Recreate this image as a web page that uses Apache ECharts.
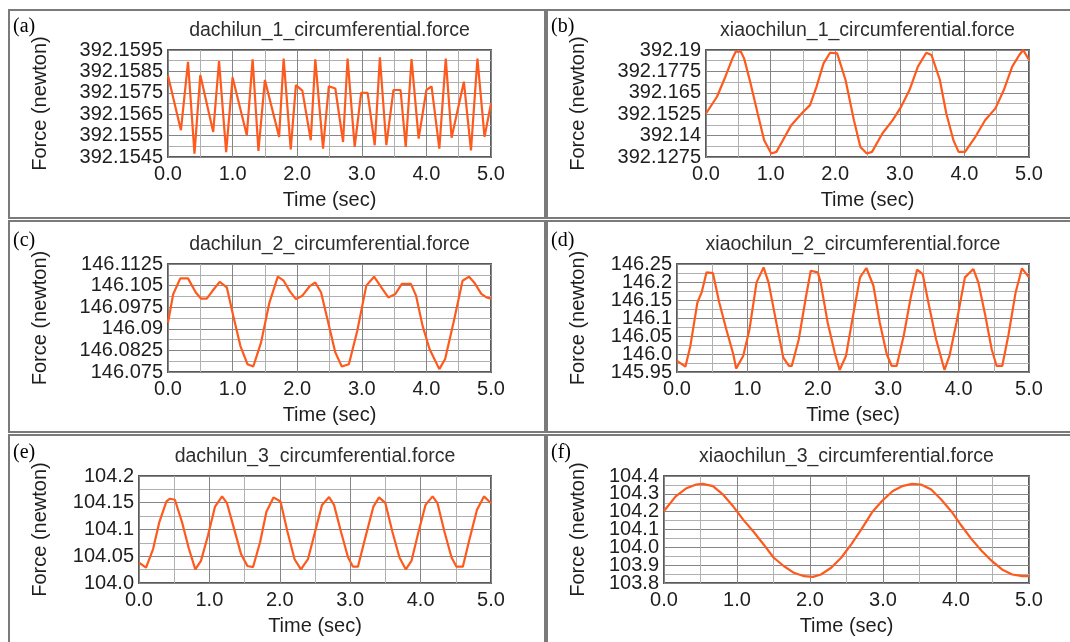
<!DOCTYPE html>
<html>
<head>
<meta charset="utf-8">
<title>circumferential force</title>
<script src="https://cdn.jsdelivr.net/npm/echarts@6/dist/echarts.min.js"></script>
<style>
    html, body { margin: 0; padding: 0; background: #fff; }
    #main { width: 1070px; height: 642px; }
</style>
</head>
<body>
<div id="main"></div>
<script>
// x axis tick labels (sec)
var timeLabels = ['0.0', '1.0', '2.0', '3.0', '4.0', '5.0'];

// (a) dachilun_1
var tA = [0, 0.20, 0.31, 0.41, 0.50, 0.70, 0.79, 0.90, 1.00, 1.22, 1.31, 1.40, 1.50, 1.72, 1.79, 1.90, 1.98, 2.08, 2.21, 2.28, 2.40, 2.49, 2.59, 2.71, 2.78, 2.89, 2.99, 3.09, 3.20, 3.28, 3.38, 3.49, 3.60, 3.68, 3.77, 3.88, 4.00, 4.08, 4.20, 4.30, 4.39, 4.58, 4.69, 4.79, 4.90, 5.00];
var fA = [392.1583, 392.15575, 392.15895, 392.15466, 392.15833, 392.15567, 392.15898, 392.15473, 392.15822, 392.15552, 392.15906, 392.15478, 392.1581, 392.15544, 392.1591, 392.15486, 392.15786, 392.1576, 392.15528, 392.15906, 392.15489, 392.15781, 392.1577, 392.1552, 392.1591, 392.15497, 392.1575, 392.1575, 392.15505, 392.15916, 392.15505, 392.15763, 392.15763, 392.15497, 392.15908, 392.15536, 392.15763, 392.1578, 392.15489, 392.1591, 392.1554, 392.15802, 392.15481, 392.1591, 392.15544, 392.157];
var yLabelsA = ['392.1545', '392.1555', '392.1565', '392.1575', '392.1585', '392.1595'];

// (b) xiaochilun_1
var tB = [0, 0.17, 0.30, 0.41, 0.46, 0.54, 0.59, 0.69, 0.80, 0.90, 1.01, 1.09, 1.19, 1.32, 1.48, 1.61, 1.71, 1.82, 1.92, 2.03, 2.16, 2.29, 2.39, 2.49, 2.57, 2.73, 2.89, 3.02, 3.15, 3.28, 3.41, 3.49, 3.62, 3.72, 3.83, 3.91, 4.01, 4.17, 4.32, 4.48, 4.61, 4.74, 4.85, 4.91, 5.00];
var fB = [392.1529, 392.1627, 392.1744, 392.1851, 392.189, 392.189, 392.1851, 392.1705, 392.1529, 392.1373, 392.1295, 392.1305, 392.1373, 392.1461, 392.1529, 392.1578, 392.1685, 392.1822, 392.1884, 392.188, 392.1725, 392.149, 392.1334, 392.1295, 392.1305, 392.1412, 392.149, 392.1568, 392.1666, 392.1803, 392.1884, 392.1871, 392.1725, 392.1529, 392.1373, 392.1305, 392.1305, 392.1393, 392.149, 392.1559, 392.1666, 392.1803, 392.1871, 392.19, 392.1842];
var yLabelsB = ['392.1275', '392.14', '392.1525', '392.165', '392.1775', '392.19'];

// (c) dachilun_2
var tC = [0, 0.08, 0.19, 0.31, 0.43, 0.51, 0.60, 0.69, 0.80, 0.91, 1.01, 1.12, 1.23, 1.32, 1.44, 1.57, 1.70, 1.79, 1.89, 1.98, 2.08, 2.19, 2.28, 2.37, 2.48, 2.59, 2.69, 2.80, 2.93, 3.07, 3.19, 3.31, 3.41, 3.52, 3.62, 3.76, 3.84, 3.94, 4.05, 4.20, 4.29, 4.42, 4.56, 4.66, 4.74, 4.85, 4.93, 5.00];
var fC = [146.0922, 146.1020, 146.1075, 146.1075, 146.1026, 146.1005, 146.1005, 146.1032, 146.1063, 146.1044, 146.0945, 146.0841, 146.0777, 146.0769, 146.0852, 146.0991, 146.1081, 146.1067, 146.1029, 146.1003, 146.1015, 146.1047, 146.1061, 146.1026, 146.0922, 146.0818, 146.0769, 146.0777, 146.0893, 146.1050, 146.1081, 146.1041, 146.1009, 146.1021, 146.1056, 146.1056, 146.1015, 146.0911, 146.0829, 146.0760, 146.0795, 146.0922, 146.1067, 146.1081, 146.1061, 146.1021, 146.1009, 146.1005];
var yLabelsC = ['146.075', '146.0825', '146.09', '146.0975', '146.105', '146.1125'];

// (d) xiaochilun_2
var tD = [0, 0.12, 0.19, 0.29, 0.35, 0.42, 0.51, 0.60, 0.70, 0.80, 0.84, 0.94, 1.03, 1.13, 1.23, 1.30, 1.42, 1.51, 1.59, 1.63, 1.73, 1.83, 1.90, 2.00, 2.04, 2.14, 2.24, 2.31, 2.40, 2.50, 2.60, 2.69, 2.79, 2.88, 2.98, 3.05, 3.12, 3.22, 3.32, 3.41, 3.49, 3.58, 3.68, 3.80, 3.87, 3.97, 4.09, 4.21, 4.28, 4.38, 4.47, 4.54, 4.62, 4.71, 4.81, 4.90, 5.00];
var fD = [145.9807, 145.965, 146.0225, 146.1432, 146.171, 146.2268, 146.2249, 146.1432, 146.0689, 145.9993, 145.9594, 145.9946, 146.0689, 146.1989, 146.2407, 146.1989, 146.0782, 145.99, 145.9668, 145.9668, 146.0411, 146.1571, 146.2314, 146.2268, 146.1989, 146.0875, 146.0039, 145.9557, 145.9946, 146.1060, 146.2129, 146.2389, 146.1896, 146.0875, 145.9993, 145.9668, 145.9668, 146.0504, 146.1571, 146.2342, 146.2221, 146.1339, 146.0411, 145.9557, 145.9946, 146.0875, 146.2129, 146.236, 146.1989, 146.1060, 146.0132, 145.9668, 145.9668, 146.055, 146.171, 146.238, 146.2129];
var yLabelsD = ['145.95', '146.0', '146.05', '146.1', '146.15', '146.2', '146.25'];

// (e) dachilun_3
var tE = [0, 0.10, 0.20, 0.29, 0.39, 0.44, 0.51, 0.61, 0.71, 0.80, 0.88, 0.98, 1.08, 1.18, 1.25, 1.35, 1.45, 1.54, 1.62, 1.72, 1.81, 1.91, 2.01, 2.11, 2.21, 2.30, 2.40, 2.50, 2.60, 2.70, 2.77, 2.87, 2.97, 3.04, 3.11, 3.21, 3.33, 3.41, 3.50, 3.60, 3.70, 3.79, 3.87, 3.97, 4.07, 4.17, 4.24, 4.34, 4.44, 4.51, 4.60, 4.69, 4.80, 4.90, 5.00];
var fE = [104.038, 104.0286, 104.0635, 104.1143, 104.1524, 104.1575, 104.1556, 104.1143, 104.0635, 104.0254, 104.0413, 104.0889, 104.1429, 104.1619, 104.1492, 104.1016, 104.054, 104.0317, 104.0298, 104.0762, 104.1333, 104.16, 104.1524, 104.0952, 104.0444, 104.0254, 104.0444, 104.0952, 104.146, 104.1606, 104.146, 104.0952, 104.0476, 104.0305, 104.0305, 104.0825, 104.1429, 104.16, 104.1492, 104.0952, 104.0476, 104.0254, 104.0413, 104.0952, 104.146, 104.1619, 104.1492, 104.0952, 104.0476, 104.0305, 104.0305, 104.0794, 104.1365, 104.1619, 104.1492];
var yLabelsE = ['104.0', '104.05', '104.1', '104.15', '104.2'];

// (f) xiaochilun_3
var tF = [0, 0.16, 0.30, 0.44, 0.53, 0.67, 0.81, 0.95, 1.09, 1.23, 1.37, 1.50, 1.64, 1.78, 1.92, 2.04, 2.15, 2.29, 2.43, 2.57, 2.71, 2.85, 2.99, 3.13, 3.26, 3.40, 3.52, 3.66, 3.80, 3.94, 4.07, 4.21, 4.35, 4.49, 4.63, 4.77, 4.91, 5.00];
var fF = [104.2038, 104.2857, 104.3295, 104.3524, 104.3562, 104.3429, 104.2952, 104.2286, 104.1524, 104.0857, 104.0133, 103.9429, 103.8952, 103.8571, 103.8381, 103.8343, 103.8476, 103.8857, 103.9429, 104.019, 104.1048, 104.1962, 104.261, 104.3143, 104.3429, 104.3562, 104.3524, 104.3238, 104.2667, 104.2, 104.1238, 104.0476, 103.981, 103.9238, 103.8762, 103.8476, 103.8381, 103.8381];
var yLabelsF = ['103.8', '103.9', '104.0', '104.1', '104.2', '104.3', '104.4'];

var panels = [
    { tag: '(a)', title: 'dachilun_1_circumferential.force', t: tA, f: fA, yLabels: yLabelsA },
    { tag: '(b)', title: 'xiaochilun_1_circumferential.force', t: tB, f: fB, yLabels: yLabelsB },
    { tag: '(c)', title: 'dachilun_2_circumferential.force', t: tC, f: fC, yLabels: yLabelsC },
    { tag: '(d)', title: 'xiaochilun_2_circumferential.force', t: tD, f: fD, yLabels: yLabelsD },
    { tag: '(e)', title: 'dachilun_3_circumferential.force', t: tE, f: fE, yLabels: yLabelsE },
    { tag: '(f)', title: 'xiaochilun_3_circumferential.force', t: tF, f: fF, yLabels: yLabelsF }
];

// layout: panel frame [x, y, w, h] and plot area [left, top, width, height]
var layout = [
    { box: [9, 10, 536, 208],  plot: [168, 50, 323, 107] },
    { box: [547, 10, 530, 208], plot: [706, 50, 323, 107] },
    { box: [9, 221, 536, 211], plot: [168, 264, 323, 108] },
    { box: [547, 221, 530, 211], plot: [677, 264, 352, 108] },
    { box: [9, 435, 536, 215], plot: [139, 476, 352, 107] },
    { box: [547, 435, 530, 215], plot: [664, 476, 365, 107] }
];

var FONT = 'Liberation Sans';
var LINE = '#ff5a1e';
var TEXT = '#1e1e1e';

function pickLabel(list, step) {
    return function (v) {
        for (var k = 0; k < list.length; k++) {
            if (Math.abs(parseFloat(list[k]) - v) < step / 10) return list[k];
        }
        return '';
    };
}

var grids = [], xAxes = [], yAxes = [], series = [], titles = [], graphics = [];

panels.forEach(function (p, i) {
    var L = layout[i];
    var yMin = parseFloat(p.yLabels[0]);
    var yMax = parseFloat(p.yLabels[p.yLabels.length - 1]);
    var yStep = Number(((yMax - yMin) / (p.yLabels.length - 1) / 2).toPrecision(6));

    grids.push({
        left: L.plot[0], top: L.plot[1], width: L.plot[2], height: L.plot[3],
        containLabel: false,
        show: true, borderColor: '#5a5a5a', borderWidth: 2, backgroundColor: 'transparent'
    });

    xAxes.push({
        gridIndex: i, type: 'value', min: 0, max: 5, interval: 0.5,
        axisLine: { show: false }, axisTick: { show: false },
        splitLine: { show: true, lineStyle: { color: ['#858585', '#b0b0b0'], width: 1 } },
        axisLabel: { margin: 7, color: TEXT, fontFamily: FONT, fontSize: 20, formatter: pickLabel(timeLabels, 0.5) },
        name: 'Time (sec)', nameLocation: 'middle', nameGap: 33, nameMoveOverlap: false,
        nameTextStyle: { color: TEXT, fontFamily: FONT, fontSize: 20 }
    });

    yAxes.push({
        gridIndex: i, type: 'value', min: yMin, max: yMax, interval: yStep,
        axisLine: { show: false }, axisTick: { show: false },
        splitLine: { show: true, lineStyle: { color: ['#858585', '#b0b0b0'], width: 1 } },
        axisLabel: { margin: 5, color: TEXT, fontFamily: FONT, fontSize: 20, formatter: pickLabel(p.yLabels, yStep) },
        name: 'Force (newton)', nameLocation: 'middle', nameGap: L.plot[0] - (L.box[0] + 31) - 10, nameMoveOverlap: false,
        nameTextStyle: { color: TEXT, fontFamily: FONT, fontSize: 20 }
    });

    series.push({
        type: 'line', xAxisIndex: i, yAxisIndex: i,
        data: p.t.map(function (t, k) { return [t, p.f[k]]; }),
        showSymbol: false, clip: true,
        lineStyle: { color: LINE, width: 2.2 }
    });

    titles.push({
        text: p.title, left: L.plot[0] + L.plot[2] / 2, top: L.plot[1] - 29, textAlign: 'center', padding: 0,
        textStyle: { color: '#2e2e2e', fontFamily: FONT, fontSize: 19.5, fontWeight: 'normal' }
    });

    graphics.push({
        type: 'rect', z: -1, silent: true,
        shape: { x: L.box[0], y: L.box[1], width: L.box[2], height: L.box[3] },
        style: { fill: null, stroke: '#7a7a7a', lineWidth: 2 }
    });
    graphics.push({
        type: 'text', silent: true, x: L.box[0] + 4, y: L.plot[1] - 33,
        style: { text: p.tag, fill: '#000', font: '20px "Liberation Serif", "Times New Roman", serif' }
    });
});

var chart = echarts.init(document.getElementById('main'));
chart.setOption({
    animation: false,
    backgroundColor: '#fff',
    title: titles,
    grid: grids,
    xAxis: xAxes,
    yAxis: yAxes,
    series: series,
    graphic: graphics
});
</script>
</body>
</html>
